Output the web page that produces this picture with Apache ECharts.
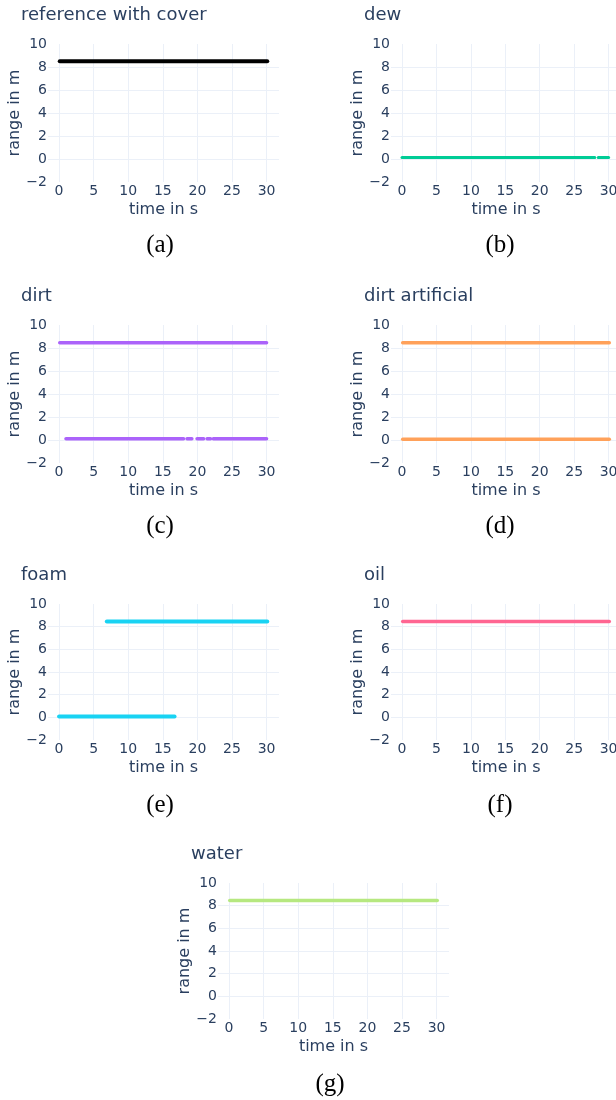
<!DOCTYPE html>
<html>
<head>
<meta charset="utf-8">
<script src="https://cdn.jsdelivr.net/npm/echarts@6/dist/echarts.min.js"></script>
<style>
  html, body { margin: 0; padding: 0; background: #fff; }
  #chart { width: 616px; height: 1100px; }
</style>
</head>
<body>
<div id="chart"></div>
<script>
// ---------- data ----------
const panelTitles = ['reference with cover', 'dew', 'dirt', 'dirt artificial', 'foam', 'oil', 'water'];
const panelCaptions = ['(a)', '(b)', '(c)', '(d)', '(e)', '(f)', '(g)'];
const panelColors = ['#000000', '#00cc96', '#ab63fa', '#FFA15A', '#19d3f3', '#FF6692', '#B6E880'];
const xAxisTitle = 'time in s';
const yAxisTitle = 'range in m';

// each trace = list of segments, each segment = [[time, range], ...]
const referenceTrace = [[[0.1, 8.49], [30.1, 8.49]]];
const dewTrace = [[[0.0, 0.12], [28.0, 0.12]], [[28.5, 0.12], [30.0, 0.12]]];
const dirtUpperTrace = [[[0.1, 8.45], [30.0, 8.45]]];
const dirtLowerTrace = [[[0.4, 0.1], [0.45, 0.1]], [[1.0, 0.1], [18.0, 0.1]], [[18.5, 0.1], [19.2, 0.1]],
                        [[19.95, 0.1], [20.9, 0.1]], [[21.4, 0.1], [21.9, 0.1]], [[22.3, 0.1], [30.0, 0.1]]];
const dirtArtUpperTrace = [[[0.1, 8.45], [30.1, 8.45]]];
const dirtArtLowerTrace = [[[0.1, 0.06], [30.1, 0.06]]];
const foamUpperTrace = [[[6.9, 8.45], [30.1, 8.45]]];
const foamLowerTrace = [[[0.0, 0.08], [16.7, 0.08]]];
const oilTrace = [[[0.1, 8.45], [30.1, 8.45]]];
const waterTrace = [[[0.1, 8.45], [30.1, 8.45]]];

const panelTraces = [
  [referenceTrace],
  [dewTrace],
  [dirtUpperTrace, dirtLowerTrace],
  [dirtArtUpperTrace, dirtArtLowerTrace],
  [foamUpperTrace, foamLowerTrace],
  [oilTrace],
  [waterTrace]
];
const traceWidths = [4, 3, 3.5, 3.5, 4, 3.5, 3.5];

const xRange = [-1.6, 31.8];
const yRange = [-2, 10];
const yStep = 2;

// ---------- layout ----------
const gridBoxes = [
  { left: 48,  top: 44,  width: 231, height: 138 },
  { left: 391, top: 44,  width: 230, height: 138 },
  { left: 48,  top: 325, width: 231, height: 138 },
  { left: 391, top: 325, width: 230, height: 138 },
  { left: 48,  top: 604, width: 231, height: 136 },
  { left: 391, top: 604, width: 230, height: 136 },
  { left: 218, top: 883, width: 231, height: 136 }
];
const captionPos = [[160, 245], [500, 245], [160, 526], [500, 526], [160, 805], [500, 805], [330, 1084]];

const FONT = '"DejaVu Sans", Verdana, sans-serif';
const TXT = '#2a3f5f';
const GRIDC = '#EBF0F8';

const grids = [], xAxes = [], yAxes = [], series = [], titles = [], graphics = [];

gridBoxes.forEach((g, i) => {
  grids.push(Object.assign({ containLabel: false, outerBoundsMode: 'none' }, g));
  xAxes.push({
    type: 'value', gridIndex: i, min: xRange[0], max: xRange[1], splitNumber: 6,
    axisLine: { show: false }, axisTick: { show: false },
    splitLine: { show: true, showMinLine: false, showMaxLine: false, lineStyle: { color: GRIDC, width: 1 } },
    axisLabel: {
      color: TXT, fontSize: 14, fontFamily: FONT, margin: 2,
      showMinLabel: false, showMaxLabel: false,
      formatter: v => (Math.abs(v % 5) < 1e-9 ? String(v) : '')
    },
    name: xAxisTitle, nameLocation: 'middle', nameGap: 20,
    nameTextStyle: { color: TXT, fontSize: 16, fontFamily: FONT }
  });
  yAxes.push({
    type: 'value', gridIndex: i, min: yRange[0], max: yRange[1], interval: yStep,
    axisLine: { show: false }, axisTick: { show: false },
    splitLine: { show: true, showMinLine: false, showMaxLine: false, lineStyle: { color: GRIDC, width: 1 } },
    axisLabel: {
      color: TXT, fontSize: 14, fontFamily: FONT, margin: 1,
      formatter: v => (v < 0 ? '\u2212' + Math.abs(v) : String(v))
    },
    name: yAxisTitle, nameLocation: 'middle', nameGap: 25, nameRotate: 90,
    nameTextStyle: { color: TXT, fontSize: 16, fontFamily: FONT }
  });
  titles.push({
    text: panelTitles[i], left: g.left - 27, top: g.top - 38, padding: 0,
    textStyle: { color: TXT, fontSize: 18, fontWeight: 'normal', fontFamily: FONT }
  });
  graphics.push({
    type: 'text', x: captionPos[i][0], y: captionPos[i][1], silent: true,
    style: {
      text: panelCaptions[i], fill: '#000', fontSize: 25,
      fontFamily: '"Liberation Serif", "Times New Roman", serif',
      align: 'center', verticalAlign: 'middle'
    }
  });
  panelTraces[i].forEach(trace => {
    trace.forEach(seg => {
      series.push({
        type: 'line', xAxisIndex: i, yAxisIndex: i, data: seg,
        showSymbol: false, symbol: 'none', silent: true, clip: false,
        lineStyle: { color: panelColors[i], width: traceWidths[i], cap: 'round' }
      });
    });
  });
});

const chart = echarts.init(document.getElementById('chart'), null, { renderer: 'canvas' });
chart.setOption({
  backgroundColor: '#ffffff',
  animation: false,
  title: titles,
  grid: grids,
  xAxis: xAxes,
  yAxis: yAxes,
  series: series,
  graphic: graphics
});
</script>
</body>
</html>
